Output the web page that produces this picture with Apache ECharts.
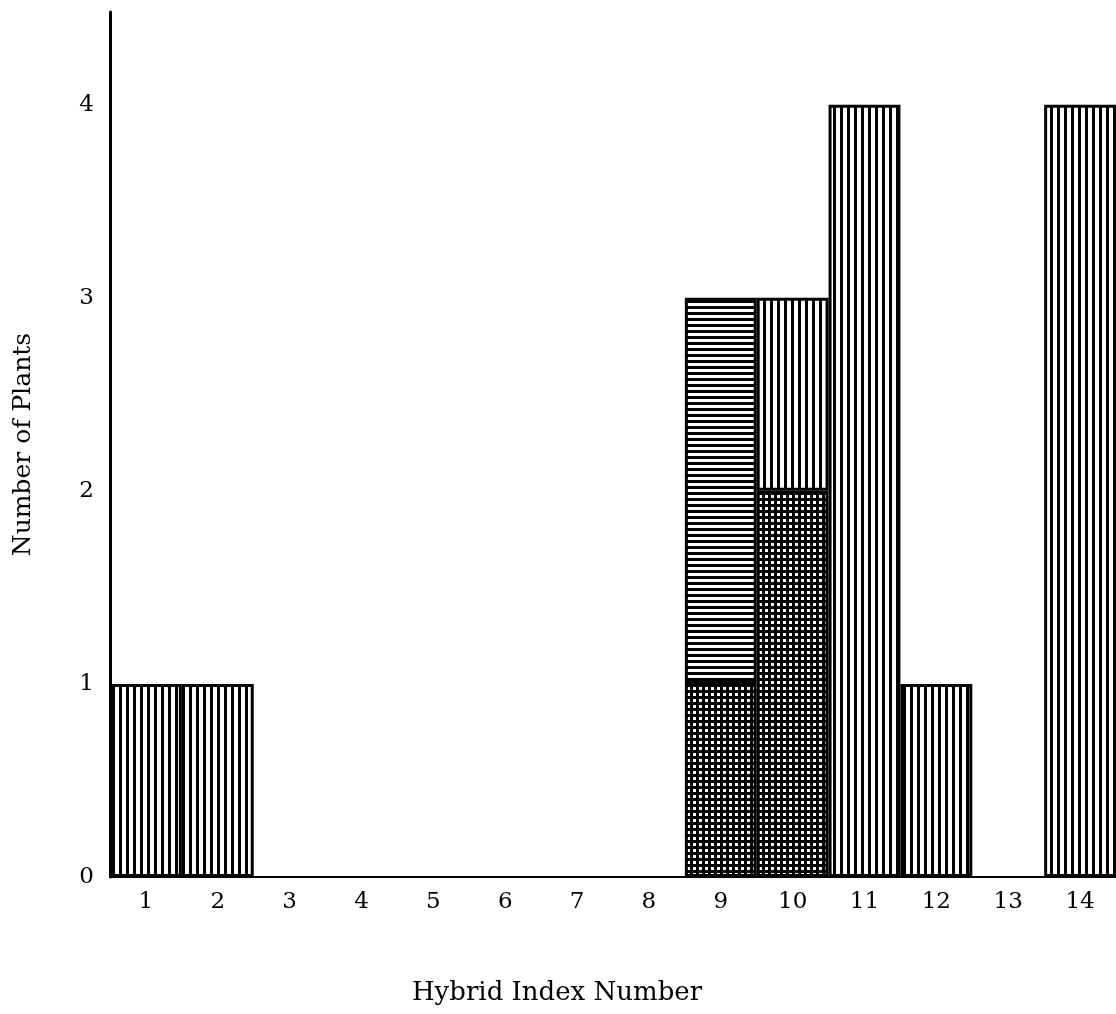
<!DOCTYPE html>
<html>
<head>
<meta charset="utf-8">
<script src="https://cdn.jsdelivr.net/npm/echarts@6/dist/echarts.min.js"></script>
<style>
  html, body { margin: 0; padding: 0; background: #fff; }
  #chart { width: 1116px; height: 1014px; }
</style>
</head>
<body>
<div id="chart"></div>
<script>
// hybrid index classes
const categories = ['1', '2', '3', '4', '5', '6', '7', '8', '9', '10', '11', '12', '13', '14'];
// plants per class, split by hatching
const crossHatched = [null, null, null, null, null, null, null, null, 1, 2, null, null, null, null];
const horizontalHatched = [null, null, null, null, null, null, null, null, 2, null, null, null, null, null];
const verticalHatched = [1, 1, null, null, null, null, null, null, null, 1, 4, 1, null, 4];
const yTicks = [0, 1, 2, 3, 4];

function makePattern (size, vertical, horizontal, thick) {
  const c = document.createElement('canvas');
  c.width = size;
  c.height = size;
  const ctx = c.getContext('2d');
  ctx.fillStyle = '#fff';
  ctx.fillRect(0, 0, size, size);
  ctx.fillStyle = '#000';
  if (vertical) ctx.fillRect(0, 0, thick, size);
  if (horizontal) ctx.fillRect(0, 0, size, thick);
  return { image: c, repeat: 'repeat' };
}

const serif = '"DejaVu Serif", "Liberation Serif", serif';
const chart = echarts.init(document.getElementById('chart'));

function barSeries (name, data, pattern) {
  return {
    name: name,
    type: 'bar',
    stack: 'plants',
    data: data,
    barCategoryGap: '0%',
    itemStyle: {
      color: pattern,
      borderColor: '#000',
      borderWidth: 3
    },
    emphasis: { disabled: true }
  };
}

let option = {
  backgroundColor: '#fff',
  animation: false,
  grid: {
    left: 110,
    right: -4,
    top: 12,
    bottom: 137
  },
  xAxis: {
    type: 'category',
    data: categories,
    name: 'Hybrid Index Number',
    nameLocation: 'middle',
    nameGap: 103,
    nameTextStyle: { color: '#000', fontFamily: serif, fontSize: 26, padding: [0, 112, 0, 0] },
    axisLine: { lineStyle: { color: '#000', width: 2 } },
    axisTick: { show: false },
    axisLabel: { color: '#000', fontFamily: serif, fontSize: 23, margin: 14 },
    splitLine: { show: false }
  },
  yAxis: {
    type: 'value',
    min: 0,
    max: 4.48,
    interval: 1,
    name: 'Number of Plants',
    nameLocation: 'middle',
    nameGap: 74,
    nameTextStyle: { color: '#000', fontFamily: serif, fontSize: 25 },
    axisLine: { show: true, lineStyle: { color: '#000', width: 3 } },
    axisTick: { show: false },
    axisLabel: {
      color: '#000',
      fontFamily: serif,
      fontSize: 23,
      margin: 16,
      formatter: function (v) {
        return yTicks.indexOf(v) >= 0 ? String(v) : '';
      }
    },
    splitLine: { show: false }
  },
  series: [
    barSeries('cross', crossHatched, makePattern(6, true, true, 3)),
    barSeries('horizontal', horizontalHatched, makePattern(6, false, true, 3)),
    barSeries('vertical', verticalHatched, makePattern(7, true, false, 3))
  ]
};

chart.setOption(option);
</script>
</body>
</html>
